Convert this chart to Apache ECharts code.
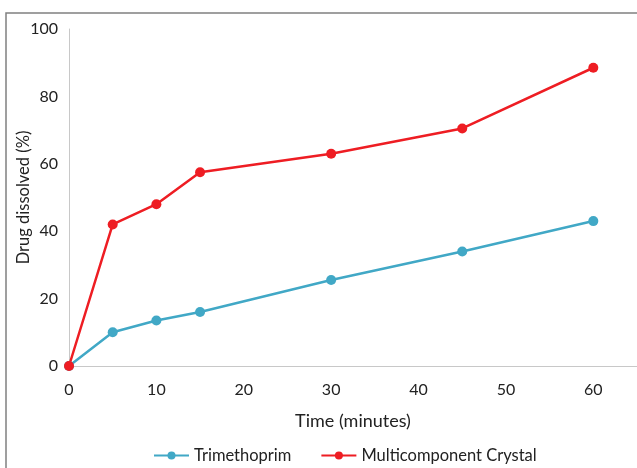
<!DOCTYPE html>
<html>
<head>
<meta charset="utf-8">
<script src="https://cdn.jsdelivr.net/npm/echarts@6/dist/echarts.min.js"></script>
<style>
  html, body { margin: 0; padding: 0; background: #fff; }
  #chart { width: 637px; height: 468px; }
</style>
</head>
<body>
<div id="chart"></div>
<script>
const times = [0, 5, 10, 15, 30, 45, 60];
const trimethoprim = [0, 10, 13.5, 16, 25.5, 34, 43];
const crystal = [0, 42, 48, 57.5, 63, 70.5, 88.5];
const seriesNames = ['Trimethoprim', 'Multicomponent Crystal'];

const dom = document.getElementById('chart');
const myChart = echarts.init(dom);
const font = 'Lato, "Open Sans", sans-serif';

const toPairs = (ys) => times.map((t, i) => [t, ys[i]]);

const option = {
    animation: false,
    color: ['#41A8C6', '#EE1D23'],
    graphic: [{
        type: 'rect',
        shape: { x: 6, y: 13, width: 700, height: 500 },
        style: { fill: 'none', stroke: '#808080', lineWidth: 1.5 },
        z: -1
    }],
    legend: {
        top: 447,
        left: 153,
        padding: 0,
        itemWidth: 35,
        itemHeight: 10,
        itemGap: 29,
        textStyle: { color: '#222', fontSize: 16.5, fontFamily: font },
        data: seriesNames
    },
    grid: {
        left: 69,
        right: 0,
        top: 29,
        bottom: 102,
        containLabel: false,
        outerBoundsMode: 'none'
    },
    xAxis: {
        type: 'value',
        min: 0,
        max: 65,
        interval: 10,
        name: 'Time (minutes)',
        nameLocation: 'middle',
        nameGap: 46,
        nameMoveOverlap: false,
        nameTextStyle: { color: '#222', fontSize: 18, fontFamily: font },
        axisLine: { show: true, lineStyle: { color: '#c8c8c8', width: 1 } },
        axisTick: { show: false },
        splitLine: { show: false },
        axisLabel: {
            color: '#222',
            fontSize: 16,
            fontFamily: font,
            margin: 16,
            showMaxLabel: false
        }
    },
    yAxis: {
        type: 'value',
        min: 0,
        max: 100,
        interval: 20,
        name: 'Drug dissolved (%)',
        nameLocation: 'middle',
        nameGap: 37,
        nameMoveOverlap: false,
        nameTextStyle: { color: '#222', fontSize: 16.5, fontFamily: font },
        axisLine: { show: true, lineStyle: { color: '#c8c8c8', width: 1 } },
        axisTick: { show: false },
        splitLine: { show: false },
        axisLabel: { color: '#222', fontSize: 16, fontFamily: font, margin: 11 }
    },
    series: [{
        name: seriesNames[0],
        type: 'line',
        symbol: 'circle',
        symbolSize: 10,
        lineStyle: { width: 2.5 },
        data: toPairs(trimethoprim)
    }, {
        name: seriesNames[1],
        type: 'line',
        symbol: 'circle',
        symbolSize: 10,
        lineStyle: { width: 2.5 },
        data: toPairs(crystal)
    }]
};
myChart.setOption(option);
</script>
</body>
</html>
